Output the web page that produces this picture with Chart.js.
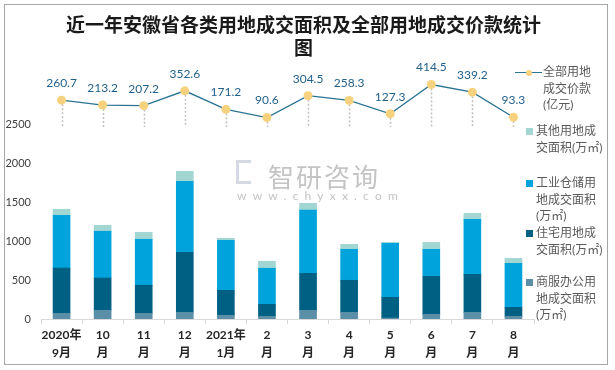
<!DOCTYPE html>
<html>
<head>
<meta charset="utf-8">
<script src="https://cdn.jsdelivr.net/npm/chart.js@4.4.0/dist/chart.umd.min.js"></script>
<style>
  body { margin: 0; background: #fff; }
  #wrap { position: relative; width: 615px; height: 370px; }
  #frame { position: absolute; left: 4px; top: 4px; width: 604px; height: 361px; border: 1px solid #a6a6a6; box-sizing: border-box; }
  #title { position: absolute; left: 40px; width: 527px; top: 12px; text-align: center; font: bold 19px "Noto Sans CJK SC", sans-serif; line-height: 23px; color: #1a1a1a; }
  #legend { position: absolute; left: 514px; top: 64px; width: 95px; font: 12px Lato, "Noto Sans CJK SC", sans-serif; color: #595959; }
  .item { position: absolute; left: 22px; white-space: pre-line; line-height: 16.5px; }
  .sq { position: absolute; width: 7px; height: 7px; }
  .wm { position: absolute; color: #c4c4c4; font-family: "Noto Sans CJK SC", sans-serif; }
  canvas { position: absolute; left: 0; top: 0; }
</style>
</head>
<body>
<div id="wrap">
  <canvas id="c" width="615" height="370"></canvas>
  <div id="frame"></div>
  <div id="title">近一年安徽省各类用地成交面积及全部用地成交价款统计<br>图</div>
  <div class="wm" style="left:236px;top:160px;width:15px;height:24px;border:3px solid #d4d9e4;border-right:none;box-sizing:border-box;"></div>
  <div class="wm" style="left:268px;top:157px;font-size:26px;letter-spacing:2px;">智研咨询</div>
  <div class="wm" style="left:237px;top:188px;font-size:12px;letter-spacing:6.2px;font-family:Lato,sans-serif;">www.chyxx.com</div>
  <div id="legend"></div>
</div>
<script>
// months on the x axis (two-line labels)
const months = [["2020年", "9月"], ["10", "月"], ["11", "月"], ["12", "月"], ["2021年", "1月"], ["2", "月"],
                ["3", "月"], ["4", "月"], ["5", "月"], ["6", "月"], ["7", "月"], ["8", "月"]];

// 全部用地成交价款 (亿元)
const priceTotal = [260.7, 213.2, 207.2, 352.6, 171.2, 90.6, 304.5, 258.3, 127.3, 414.5, 339.2, 93.3];

// 成交面积 (万㎡)
const areaCommercial  = [73, 112, 73, 86, 47, 34, 112, 86, 12, 60, 86, 34];
const areaResidential = [583, 416, 361, 772, 322, 155, 476, 412, 267, 489, 489, 116];
const areaIndustrial  = [679, 601, 592, 914, 644, 464, 812, 399, 694, 348, 708, 566];
const areaOther       = [77, 77, 90, 129, 26, 90, 89, 64, 13, 89, 77, 64];

const yTicksShown = [0, 500, 1000, 1500, 2000, 2500];

const FONT = "Lato, 'Noto Sans CJK SC', sans-serif";

// drop lines + value labels for the price line
const priceDecor = {
    id: "priceDecor",
    beforeDatasetsDraw(chart) {
        const ctx = chart.ctx;
        const meta = chart.getDatasetMeta(0);
        const yBase = chart.scales.y.getPixelForValue(2470);
        ctx.save();
        ctx.strokeStyle = "#bfbfbf";
        ctx.lineWidth = 1.5;
        ctx.setLineDash([2, 2]);
        meta.data.forEach(pt => {
            ctx.beginPath();
            ctx.moveTo(Math.round(pt.x) + 0.5, pt.y);
            ctx.lineTo(Math.round(pt.x) + 0.5, yBase);
            ctx.stroke();
        });
        ctx.restore();
    },
    afterDatasetsDraw(chart) {
        const ctx = chart.ctx;
        const meta = chart.getDatasetMeta(0);
        ctx.save();
        ctx.font = "12px " + FONT;
        ctx.fillStyle = "#1f5f8b";
        ctx.textAlign = "center";
        ctx.textBaseline = "middle";
        meta.data.forEach((pt, i) => {
            ctx.fillText(priceTotal[i].toFixed(1), pt.x, pt.y - 17);
        });
        ctx.restore();
    }
};

const chart = new Chart(document.getElementById("c"), {
    type: "bar",
    data: {
        labels: months,
        datasets: [
            {
                type: "line", label: "全部用地\n成交价款\n(亿元)", data: priceTotal, yAxisID: "y2",
                borderColor: "#2a7393", borderWidth: 1.3, pointBackgroundColor: "#f7d27e",
                pointBorderWidth: 0, pointRadius: 4.5, tension: 0, order: 0
            },
            { label: "商服办公用\n地成交面积\n(万㎡)", data: areaCommercial, backgroundColor: "#5b8fa7", stack: "s", order: 1 },
            { label: "住宅用地成\n交面积(万㎡)", data: areaResidential, backgroundColor: "#006084", stack: "s", order: 1 },
            { label: "工业仓储用\n地成交面积\n(万㎡)", data: areaIndustrial, backgroundColor: "#00a3db", stack: "s", order: 1 },
            { label: "其他用地成\n交面积(万㎡)", data: areaOther, backgroundColor: "#a1d6d3", stack: "s", order: 1 }
        ]
    },
    options: {
        responsive: false,
        animation: false,
        layout: { padding: { left: 0, right: 81, top: 47, bottom: 0 } },
        datasets: { bar: { barThickness: 17 } },
        plugins: { legend: { display: false }, tooltip: { enabled: false } },
        scales: {
            x: {
                stacked: true,
                grid: { drawOnChartArea: false, drawTicks: true, tickLength: 5, color: "#d9d9d9" },
                border: { color: "#d9d9d9", width: 1 },
                ticks: {
                    color: "#262626", padding: 2, maxRotation: 0, autoSkip: false,
                    font: { family: FONT, size: 12, weight: "bold", lineHeight: 1.5 }
                },
                afterFit(scale) { scale.height = 51; }
            },
            y: {
                stacked: true, min: 0, max: 3500,
                grid: { display: false, drawTicks: false },
                border: { display: false },
                afterBuildTicks(scale) { scale.ticks = yTicksShown.map(v => ({ value: v })); },
                ticks: { color: "#404040", padding: 10, font: { family: FONT, size: 11 }, callback: v => String(v) },
                afterFit(scale) { scale.width = 41; }
            },
            y2: { display: false, min: -1886, max: 782.5 }
        }
    },
    plugins: [priceDecor]
});

// html legend built from the datasets (line first, then bars top-down)
const legend = document.getElementById("legend");
const rows = [0, 4, 3, 2, 1];
const tops = [0, 59, 111, 161, 210];
rows.forEach((idx, k) => {
    const ds = chart.data.datasets[idx];
    if (ds.type === "line") {
        const ln = document.createElement("div");
        ln.style.cssText = "position:absolute;left:1px;top:8px;width:27px;height:0;border-top:1.3px solid " + ds.borderColor;
        legend.appendChild(ln);
        const dot = document.createElement("div");
        dot.style.cssText = "position:absolute;left:12px;top:6px;width:6px;height:6px;border-radius:3px;background:" + ds.pointBackgroundColor;
        legend.appendChild(dot);
    } else {
        const sq = document.createElement("div");
        sq.className = "sq";
        sq.style.left = "12px";
        sq.style.top = (tops[k] + 5) + "px";
        sq.style.background = ds.backgroundColor;
        legend.appendChild(sq);
    }
    const t = document.createElement("div");
    t.className = "item";
    t.style.top = tops[k] + "px";
    t.style.left = ds.type === "line" ? "29px" : "22px";
    t.textContent = ds.label;
    legend.appendChild(t);
});
</script>
</body>
</html>
